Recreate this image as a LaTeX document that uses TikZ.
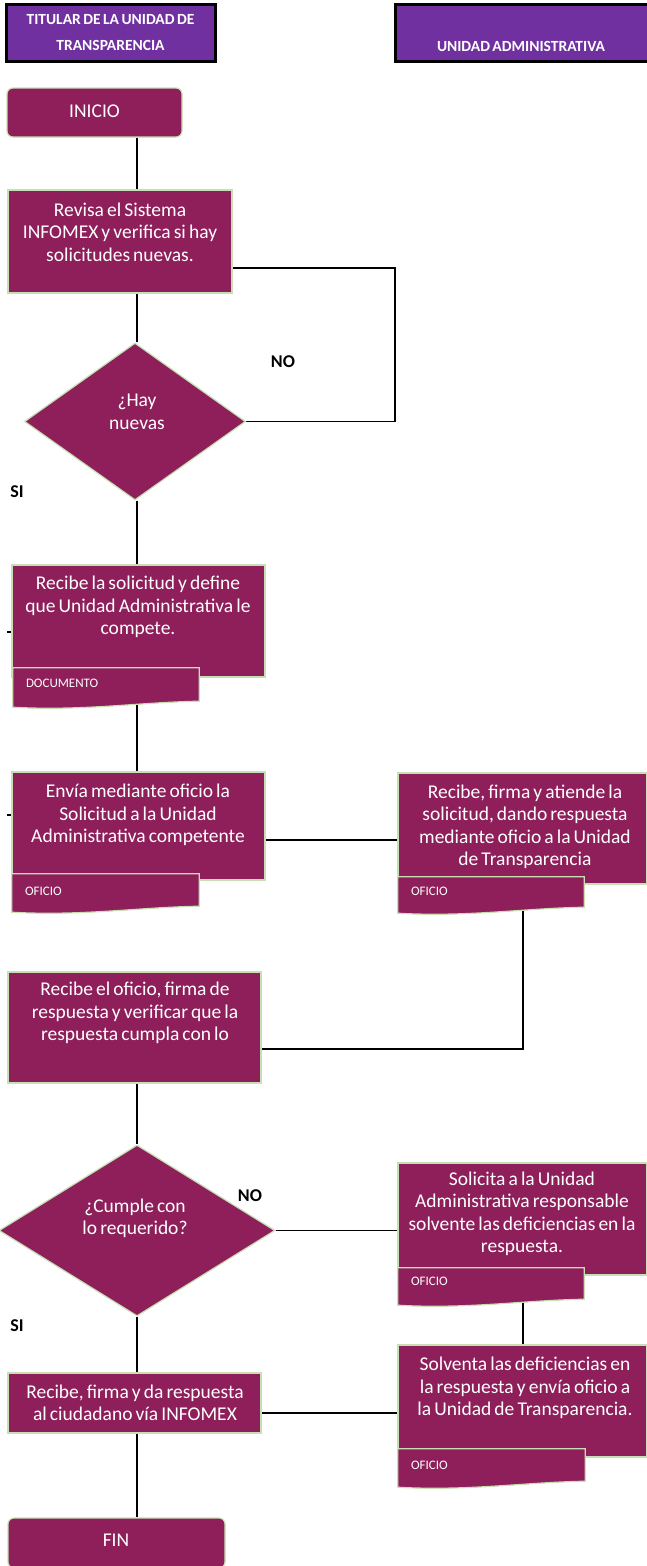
\documentclass[tikz,border=0pt]{standalone}
\usepackage{fontspec}
\setmainfont{Carlito}[WordSpace=0.7]
\usetikzlibrary{shapes.geometric,calc}
\definecolor{boxfill}{HTML}{8E1F5B}
\definecolor{boxline}{HTML}{C6E0B4}
\definecolor{headfill}{HTML}{7030A0}
\pgfdeclarelayer{bg}
\pgfsetlayers{bg,main}
\tikzset{
  box/.style={rectangle, fill=boxfill, draw=boxline, line width=1.2pt, inner sep=0pt},
  rbox/.style={box, rounded corners=6pt},
  tabshape/.style={rectangle, inner sep=0pt},
  tabsty/.style={fill=boxfill, draw=boxline, line width=1.2pt},
  dia/.style={diamond, fill=boxfill, draw=boxline, line width=1.2pt, inner sep=0pt},
  head/.style={rectangle, fill=headfill, draw=black, line width=3pt, inner sep=0pt},
  headtxt/.style={text=white, align=center, font=\fontsize{15.5}{26}\selectfont\bfseries},
  txt/.style={text=white, align=center, inner sep=0pt, font=\fontsize{19.5}{22.5}\selectfont},
  tablabel/.style={text=white, anchor=west, inner sep=0pt, font=\fontsize{13}{15}\selectfont},
  lbl/.style={text=black, inner sep=0pt, font=\fontsize{18}{20}\selectfont\bfseries},
  conn/.style={draw=black, line width=1.8pt},
}
\newcommand\docwave[1]{%
  \filldraw[tabsty] (#1.north west) -- (#1.north east) -- ($(#1.south east)+(0,-4)$)
  .. controls ($(#1.south east)+(-60,-3)$) and ($(#1.south west)+(70,6)$) .. ($(#1.south west)+(0,2)$) -- cycle;}
\begin{document}
\begin{tikzpicture}[x=1pt,y=-1pt]
\useasboundingbox (0,0) rectangle (647,1566);
% headers
\node[head, minimum width=209, minimum height=57] (h1) at (110.5,32.5) {};
\node[headtxt] (h1t) at (110.5,33) {TITULAR DE LA UNIDAD DE\\TRANSPARENCIA};
\node[head, minimum width=254, minimum height=57] (h2) at (522,32.5) {};
\node[headtxt] (h2t) at (521,46) {UNIDAD ADMINISTRATIVA};
% inicio
\node[rbox, minimum width=175, minimum height=49] (ini) at (94.5,112.5) {};
\node[txt] (init) at (94.5,111) {INICIO};
% box 1
\node[box, minimum width=224, minimum height=103] (b1) at (120,241.5) {};
\node[txt] (b1t) at (120,232) {Revisa el Sistema\\INFOMEX y verifica si hay\\solicitudes nuevas.};
% diamond 1
\node[dia, minimum width=221, minimum height=157] (d1) at (135,421.5) {};
\node[txt] (d1t) at (137,412) {¿Hay\\nuevas};
\node[lbl] (no1) at (283,362) {NO};
\node[lbl] (si1) at (17,492) {SI};
% box 2 with document tab
\node[box, minimum width=253, minimum height=112] (b2) at (138.5,621) {};
\node[txt] (b2t) at (138,607) {Recibe la solicitud y define\\que Unidad Administrativa le\\compete.};
\node[tabshape, minimum width=186, minimum height=37] (tab2) at (106,686.5) {};
\docwave{tab2}
\node[tablabel] (l2) at ($(tab2.west)+(13,-3)$) {DOCUMENTO};
% box 3
\node[box, minimum width=253, minimum height=108] (b3) at (138.5,826) {};
\node[txt] (b3t) at (138,815) {Envía mediante oficio la\\Solicitud a la Unidad\\Administrativa competente};
\node[tabshape, minimum width=187, minimum height=36] (tab3) at (105.5,892) {};
\docwave{tab3}
\node[tablabel] (l3) at ($(tab3.west)+(13,-1)$) {OFICIO};
% box 4
\node[box, minimum width=249, minimum height=111] (b4) at (522.5,828.5) {};
\node[txt] (b4t) at (525,827) {Recibe, firma y atiende la\\solicitud, dando respuesta\\mediante oficio a la Unidad\\de Transparencia};
\node[tabshape, minimum width=186, minimum height=34] (tab4) at (491,894) {};
\docwave{tab4}
\node[tablabel] (l4) at ($(tab4.west)+(13,-3)$) {OFICIO};
% box 5
\node[box, minimum width=253, minimum height=111] (b5) at (134.5,1027.5) {};
\node[txt] (b5t) at (135,1013) {Recibe el oficio, firma de\\respuesta y verificar que la\\respuesta cumpla con lo};
% diamond 2
\node[dia, minimum width=276, minimum height=171] (d2) at (137,1230.5) {};
\node[txt] (d2t) at (135,1218.5) {¿Cumple con\\lo requerido?};
\node[lbl] (no2) at (250,1196) {NO};
\node[lbl] (si2) at (17,1326) {SI};
% box 6
\node[box, minimum width=249, minimum height=112] (b6) at (522.5,1219) {};
\node[txt] (b6t) at (522,1214) {Solicita a la Unidad\\Administrativa responsable\\solvente las deficiencias en la\\respuesta.};
\node[tabshape, minimum width=186, minimum height=35] (tab6) at (491,1285.5) {};
\docwave{tab6}
\node[tablabel] (l6) at ($(tab6.west)+(13,-4)$) {OFICIO};
% box 7
\node[box, minimum width=249, minimum height=112] (b7) at (522.5,1401) {};
\node[txt] (b7t) at (525,1388) {Solventa las deficiencias en\\la respuesta y envía oficio a\\la Unidad de Transparencia.};
\node[tabshape, minimum width=187, minimum height=36] (tab7) at (491.5,1467) {};
\docwave{tab7}
\node[tablabel] (l7) at ($(tab7.west)+(13,-2)$) {OFICIO};
% box 8
\node[box, minimum width=253, minimum height=60] (b8) at (134.5,1403) {};
\node[txt] (b8t) at (135,1403) {Recibe, firma y da respuesta\\al ciudadano vía INFOMEX};
% fin
\node[rbox, minimum width=217, minimum height=50] (fin) at (116.5,1543) {};
\node[txt] (fint) at (116,1540) {FIN};
% helper coordinates
\coordinate (sp) at (137,0);
\coordinate (n1) at (395,268);
\coordinate (c3) at (330,840);
\coordinate (c4) at (523,1049);
\coordinate (c7) at (330,1413);
\coordinate (s2) at (7,632);
\coordinate (s3) at (7,815);
% connectors
\begin{pgfonlayer}{bg}
\draw[conn] (ini.south -| sp) -- (b1.north -| sp);
\draw[conn] (b1.south -| sp) -- (d1.north -| sp);
\draw[conn] (b1.east |- n1) -- (n1) |- (d1.east);
\draw[conn] (d1.south -| sp) -- (b2.north -| sp);
\draw[conn] (tab2.south -| sp) -- (b3.north -| sp);
\draw[conn] (b2.west |- s2) -- (s2);
\draw[conn] (b3.west |- s3) -- (s3);
\draw[conn] (b3.east |- c3) -- (b4.west |- c3);
\draw[conn] (tab4.south -| c4) -- (c4) -- (b5.east |- c4);
\draw[conn] (b5.south -| sp) -- (d2.north -| sp);
\draw[conn] (d2.east) -- (b6.west |- d2.east);
\draw[conn] (tab6.south -| c4) -- (b7.north -| c4);
\draw[conn] (b7.west |- c7) -- (b8.east |- c7);
\draw[conn] (d2.south -| sp) -- (b8.north -| sp);
\draw[conn] (b8.south -| sp) -- (fin.north -| sp);
\end{pgfonlayer}
\end{tikzpicture}
\end{document}
